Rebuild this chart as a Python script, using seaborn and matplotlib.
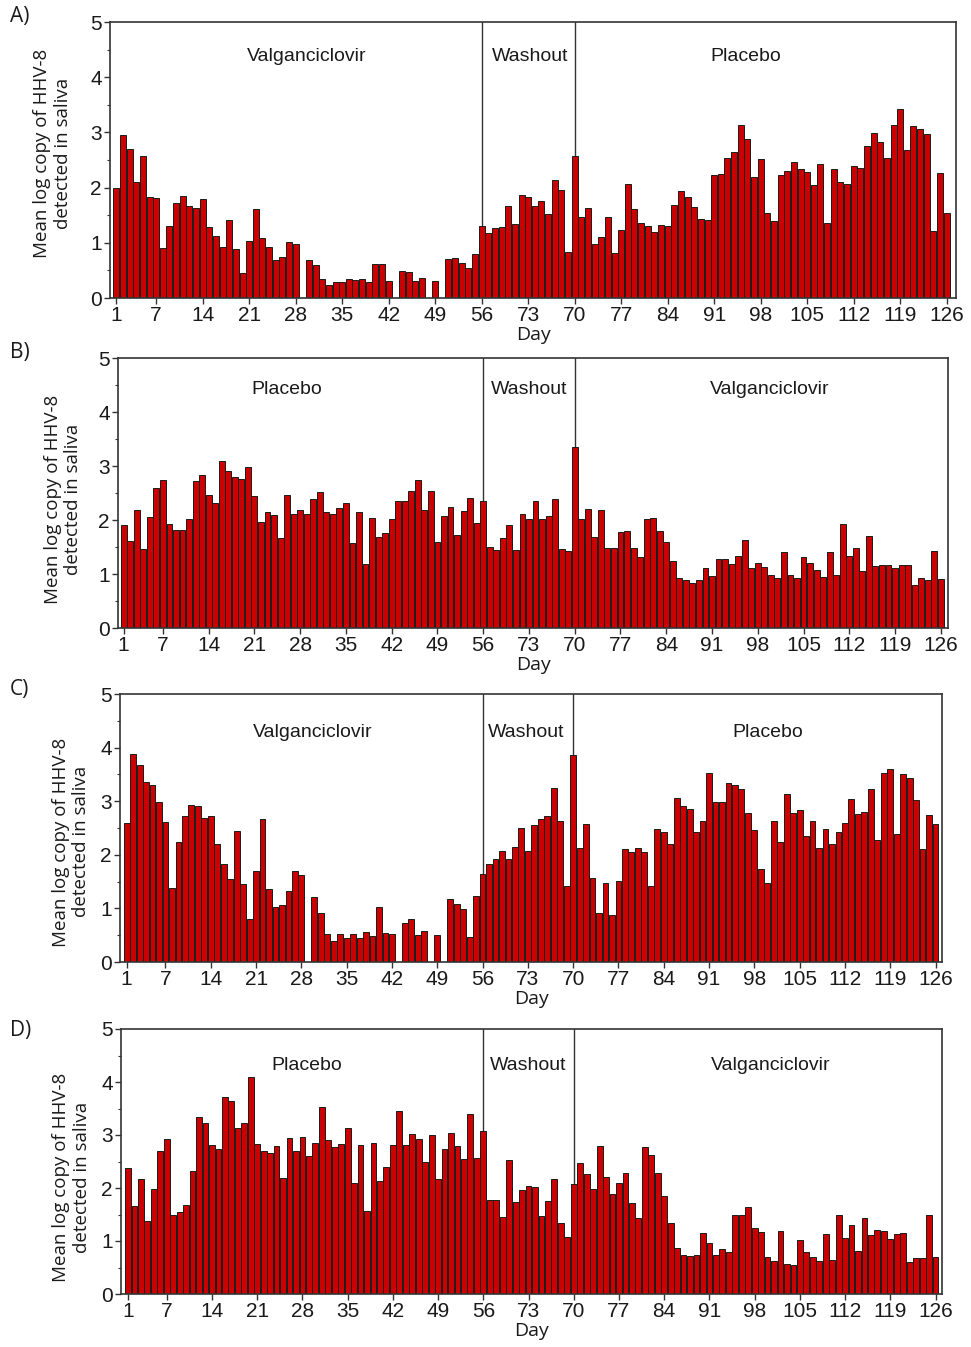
import numpy as np
import pandas as pd
import matplotlib
matplotlib.use("Agg")
import matplotlib.pyplot as plt
import seaborn as sns
from matplotlib.ticker import MultipleLocator

# study days, one bar per day
days = list(range(1, 127))
tick_days = [1, 7, 14, 21, 28, 35, 42, 49, 56, 63, 70, 77, 84, 91, 98, 105, 112, 119, 126]
# the original figure prints "73" where day 63 sits
tick_labels = ["1", "7", "14", "21", "28", "35", "42", "49", "56", "73", "70",
               "77", "84", "91", "98", "105", "112", "119", "126"]

panel_letters = ["A)", "B)", "C)", "D)"]
phases_vpv = ["Valganciclovir", "Washout", "Placebo"]
phases_pvv = ["Placebo", "Washout", "Valganciclovir"]
panel_phases = [phases_vpv, phases_pvv, phases_vpv, phases_pvv]

vals_a = [2.00, 2.95, 2.70, 2.11, 2.58, 1.83, 1.81, 0.90, 1.31, 1.72,
          1.85, 1.67, 1.63, 1.80, 1.28, 1.12, 0.93, 1.42, 0.89, 0.46,
          1.04, 1.61, 1.08, 0.93, 0.69, 0.75, 1.02, 0.98, 0.00, 0.69,
          0.60, 0.34, 0.23, 0.29, 0.29, 0.34, 0.32, 0.34, 0.29, 0.62,
          0.61, 0.31, 0.00, 0.49, 0.47, 0.31, 0.36, 0.00, 0.31, 0.00,
          0.71, 0.72, 0.64, 0.54, 0.80, 1.31, 1.18, 1.27, 1.28, 1.66,
          1.34, 1.87, 1.83, 1.67, 1.75, 1.52, 2.14, 1.95, 0.83, 2.57,
          1.46, 1.63, 0.98, 1.10, 1.46, 0.82, 1.23, 2.07, 1.61, 1.36,
          1.30, 1.20, 1.33, 1.30, 1.68, 1.93, 1.83, 1.64, 1.43, 1.42,
          2.23, 2.24, 2.53, 2.65, 3.14, 2.88, 2.20, 2.51, 1.54, 1.39,
          2.22, 2.30, 2.47, 2.33, 2.28, 2.05, 2.42, 1.36, 2.33, 2.10,
          2.07, 2.39, 2.35, 2.75, 2.99, 2.83, 2.53, 3.13, 3.43, 2.68,
          3.11, 3.07, 2.98, 1.22, 2.27, 1.54]

vals_b = [1.91, 1.61, 2.18, 1.46, 2.06, 2.59, 2.75, 1.93, 1.82, 1.81,
          2.01, 2.72, 2.84, 2.46, 2.32, 3.09, 2.91, 2.80, 2.76, 2.99,
          2.45, 1.97, 2.14, 2.09, 1.67, 2.46, 2.12, 2.19, 2.12, 2.38,
          2.51, 2.14, 2.11, 2.22, 2.32, 1.57, 2.15, 1.19, 2.04, 1.68,
          1.76, 2.02, 2.36, 2.36, 2.53, 2.75, 2.19, 2.54, 1.60, 2.08,
          2.25, 1.73, 2.16, 2.41, 1.94, 2.35, 1.50, 1.45, 1.66, 1.90,
          1.45, 2.12, 2.01, 2.36, 2.01, 2.08, 2.38, 1.46, 1.43, 3.36,
          2.01, 2.21, 1.68, 2.18, 1.49, 1.48, 1.78, 1.79, 1.49, 1.31,
          2.01, 2.04, 1.79, 1.59, 1.25, 0.93, 0.88, 0.84, 0.88, 1.11,
          0.96, 1.27, 1.28, 1.19, 1.33, 1.63, 1.11, 1.20, 1.13, 0.99,
          0.92, 1.41, 0.98, 0.92, 1.31, 1.20, 1.08, 0.95, 1.41, 0.99,
          1.93, 1.33, 1.49, 1.06, 1.71, 1.14, 1.17, 1.16, 1.11, 1.17,
          1.17, 0.80, 0.93, 0.88, 1.43, 0.90]

vals_c = [2.60, 3.88, 3.67, 3.35, 3.31, 2.99, 2.62, 1.38, 2.23, 2.73,
          2.93, 2.91, 2.68, 2.73, 2.21, 1.82, 1.54, 2.45, 1.46, 0.80,
          1.69, 2.67, 1.36, 1.03, 1.06, 1.33, 1.69, 1.63, 0.00, 1.21,
          0.92, 0.53, 0.39, 0.52, 0.45, 0.52, 0.45, 0.56, 0.48, 1.03,
          0.55, 0.52, 0.00, 0.72, 0.80, 0.50, 0.58, 0.00, 0.50, 0.00,
          1.17, 1.08, 0.98, 0.46, 1.23, 1.64, 1.82, 1.92, 2.07, 1.92,
          2.14, 2.50, 2.07, 2.55, 2.67, 2.73, 3.24, 2.63, 1.41, 3.86,
          2.12, 2.58, 1.57, 0.92, 1.48, 0.87, 1.51, 2.10, 2.05, 2.13,
          2.05, 1.42, 2.48, 2.43, 2.20, 3.06, 2.91, 2.85, 2.43, 2.63,
          3.53, 2.99, 2.98, 3.34, 3.30, 3.23, 2.78, 2.46, 1.73, 1.48,
          2.63, 2.24, 3.13, 2.78, 2.83, 2.35, 2.63, 2.13, 2.48, 2.20,
          2.43, 2.60, 3.05, 2.76, 2.80, 3.23, 2.27, 3.52, 3.61, 2.39,
          3.51, 3.44, 3.03, 2.11, 2.74, 2.57]

vals_d = [2.37, 1.66, 2.17, 1.38, 1.99, 2.70, 2.93, 1.49, 1.55, 1.68,
          2.33, 3.34, 3.23, 2.81, 2.73, 3.71, 3.64, 3.13, 3.23, 4.09,
          2.83, 2.69, 2.66, 2.80, 2.19, 2.95, 2.70, 2.96, 2.61, 2.85,
          3.52, 2.91, 2.77, 2.83, 3.13, 2.09, 2.81, 1.57, 2.85, 2.14,
          2.39, 2.81, 3.45, 2.81, 3.02, 2.93, 2.49, 3.00, 2.17, 2.74,
          3.03, 2.80, 2.55, 3.39, 2.56, 3.08, 1.78, 1.78, 1.45, 2.53,
          1.73, 1.97, 2.03, 2.01, 1.48, 1.75, 2.17, 1.34, 1.07, 2.08,
          2.48, 2.27, 1.98, 2.80, 2.21, 1.88, 2.09, 2.28, 1.72, 1.44,
          2.78, 2.63, 2.28, 1.85, 1.34, 0.86, 0.73, 0.71, 0.73, 1.16,
          0.96, 0.74, 0.84, 0.79, 1.50, 1.50, 1.65, 1.25, 1.17, 0.70,
          0.63, 1.19, 0.57, 0.54, 1.02, 0.79, 0.70, 0.62, 1.14, 0.65,
          1.50, 1.06, 1.31, 0.82, 1.44, 1.11, 1.21, 1.18, 1.04, 1.14,
          1.16, 0.60, 0.68, 0.67, 1.50, 0.70]

panel_values = [vals_a, vals_b, vals_c, vals_d]

# layout (pixels in the 971x1347 image): left, right, top, bottom of each axes
W, H = 971, 1347
boxes = [(110, 956, 22, 298), (118, 948, 358, 628), (120, 942, 694, 962), (121, 942, 1029, 1294)]
xlims = [(0.05, 127.4), (0.13, 127.1), (-0.03, 127.0), (-0.08, 127.0)]
letter_y = [6, 342, 679, 1020]
ylab_xy = [(-0.045, 0.525), (-0.043, 0.478), (-0.036, 0.448), (-0.037, 0.44)]
phase_x = [(29.6, 63.3, 95.8), (26.0, 63.1, 99.9), (29.8, 62.8, 100.1), (28.7, 62.9, 100.5)]
phase_y = [4.38, 4.41, 4.29, 4.32]

sns.set_style("ticks")
plt.rcParams["font.family"] = ["Liberation Sans", "DejaVu Sans"]
label_font = ["Open Sans", "DejaVu Sans"]
edge = "#333333"

fig = plt.figure(figsize=(W / 100, H / 100), dpi=100)

for i in range(4):
    l, r, t, b = boxes[i]
    ax = fig.add_axes([l / W, 1 - b / H, (r - l) / W, (b - t) / H])
    df = pd.DataFrame({"Day": days, "value": panel_values[i]})

    ax.axvline(56, color=edge, lw=1.0, zorder=0.5)
    ax.axvline(70, color=edge, lw=1.0, zorder=0.5)
    sns.barplot(data=df, x="Day", y="value", native_scale=True, color="#cc0000",
                saturation=1, edgecolor="#1a1a1a", linewidth=0.7, width=0.9,
                errorbar=None, ax=ax, zorder=2)

    ax.set_xlim(*xlims[i])
    ax.set_ylim(0, 5)
    ax.set_xticks(tick_days)
    ax.set_xticklabels(tick_labels)
    ax.yaxis.set_major_locator(MultipleLocator(1))
    ax.yaxis.set_minor_locator(MultipleLocator(0.5))
    ax.tick_params(axis="both", which="major", labelsize=15, length=4, width=1,
                   color=edge, labelcolor="#1a1a1a", pad=2)
    ax.tick_params(axis="y", which="minor", length=2.5, width=0.8, color=edge)
    for s in ax.spines.values():
        s.set_color(edge)
        s.set_linewidth(1.2)

    ax.set_xlabel("Day", family=label_font, fontsize=14, labelpad=0.5, color="#1a1a1a")
    ax.set_ylabel("Mean log copy of HHV-8\ndetected in saliva", family=label_font,
                  fontsize=13.5, color="#1a1a1a")
    ax.yaxis.set_label_coords(*ylab_xy[i])

    for name, px in zip(panel_phases[i], phase_x[i]):
        ax.text(px, phase_y[i], name, ha="center", va="center", fontsize=14, color="#1a1a1a")

    fig.text(10 / W, 1 - letter_y[i] / H, panel_letters[i], ha="left", va="top",
             family=label_font, fontsize=15, color="#1a1a1a")

fig.savefig("out.png", dpi=100)
